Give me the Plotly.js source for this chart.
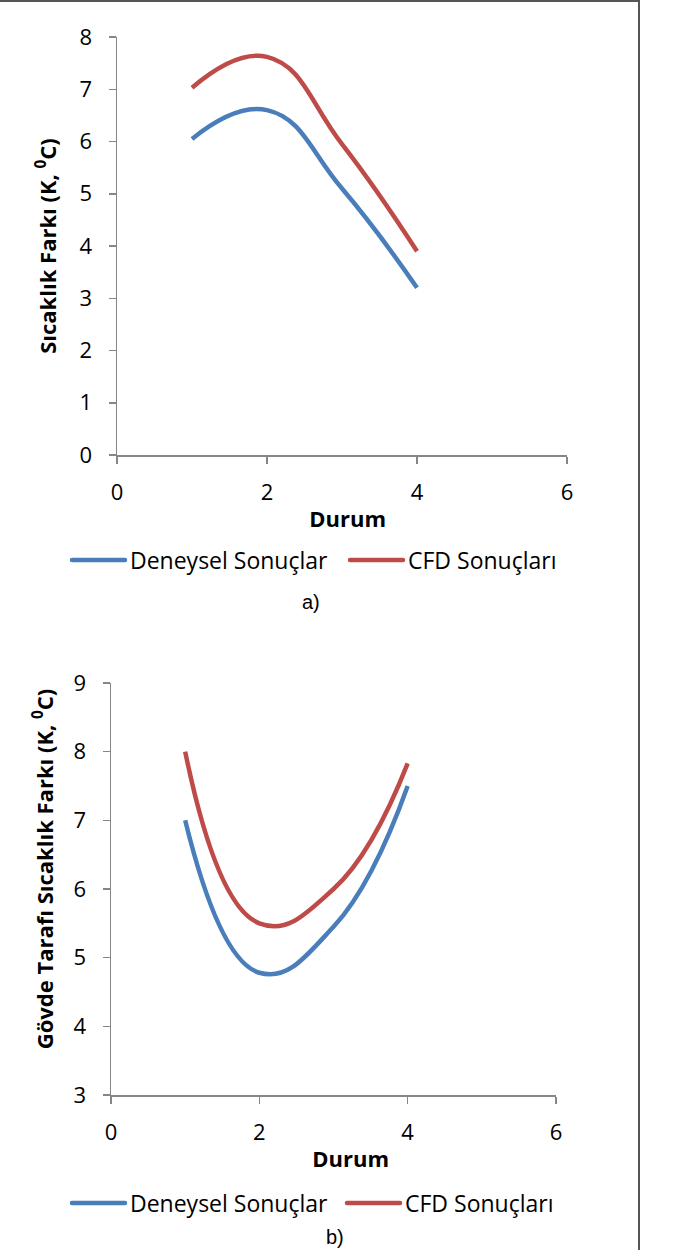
<!DOCTYPE html>
<html>
<head>
<meta charset="utf-8">
<script src="https://cdn.plot.ly/plotly-3.0.1.min.js"></script>
<style>
  html, body { margin: 0; padding: 0; background: #fff; width: 680px; height: 1250px; overflow: hidden; }
  #frame { position: absolute; left: -12px; top: 0px; width: 652px; height: 1300px; border: 2px solid #555; box-sizing: border-box; pointer-events: none; z-index: 5; }
  #chartA { position: absolute; left: 0; top: 0; width: 680px; height: 625px; }
  #chartB { position: absolute; left: 0; top: 625px; width: 680px; height: 625px; }
</style>
</head>
<body>
<div id="chartA"></div>
<div id="chartB"></div>
<div id="frame"></div>
<script>
// ---- data ----
const durum = [1, 2, 3, 4];
const seriesNames = ["Deneysel Sonuçlar", "CFD Sonuçları"];
const deneyselA = [6.05, 6.6, 5.1, 3.2];
const cfdA = [7.03, 7.62, 5.95, 3.9];
const deneyselB = [7.0, 4.78, 5.45, 7.5];
const cfdB = [8.0, 5.5, 6.0, 7.83];
const yTitleA = "Sıcaklık Farkı (K, <sup>0</sup>C)";
const yTitleB = "Gövde Tarafı Sıcaklık Farkı (K, <sup>0</sup>C)";
const xTitle = "Durum";
const captionA = "a)";
const captionB = "b)";

const BLUE = "#4A7EBB", RED = "#BE4B48", AXIS = "#868686";
const FONT = "Open Sans, sans-serif";
const SMOOTH = 1.3;

function traces(den, cfd) {
  return [
    { x: durum, y: den, name: seriesNames[0], type: "scatter", mode: "lines",
      line: { color: BLUE, width: 4.5, shape: "spline", smoothing: SMOOTH } },
    { x: durum, y: cfd, name: seriesNames[1], type: "scatter", mode: "lines",
      line: { color: RED, width: 4.5, shape: "spline", smoothing: SMOOTH } }
  ];
}

function axisCommon() {
  return {
    showline: true, linecolor: AXIS, linewidth: 1.5,
    ticks: "outside", tickcolor: AXIS, tickwidth: 1.5, ticklen: 7,
    showgrid: false, zeroline: false,
    tickfont: { family: FONT, size: 22, color: "#000" }
  };
}

function layout(cfg) {
  const xa = Object.assign(axisCommon(), {
    range: [0, 6], dtick: 2, tick0: 0, ticklabelstandoff: 10,
    title: { text: cfg.xpad + "<b>" + xTitle + "</b>", font: { family: FONT, size: 22, color: "#000" }, standoff: 6 }
  });
  const ya = Object.assign(axisCommon(), {
    range: cfg.yrange, dtick: 1, tick0: 0,
    ticklabelstandoff: 12,
    title: { text: cfg.ypad + "<b>" + cfg.ytitle + "</b>", font: { family: FONT, size: 22, color: "#000" }, standoff: cfg.ystand }
  });
  return {
    width: 680, height: 625,
    margin: cfg.margin,
    paper_bgcolor: "rgba(0,0,0,0)", plot_bgcolor: "rgba(0,0,0,0)",
    font: { family: FONT, color: "#000" },
    xaxis: xa, yaxis: ya,
    showlegend: true,
    legend: { orientation: "h", x: cfg.legx, xanchor: "left", y: cfg.legy, yanchor: "middle",
      font: { family: FONT, size: 23, color: "#000" }, itemwidth: 30,
      entrywidth: cfg.entry, entrywidthmode: "pixels", borderwidth: 0 },
    annotations: [{ xref: "paper", yref: "paper", x: cfg.capx, y: cfg.capy, xanchor: "center", yanchor: "middle",
      text: cfg.caption, showarrow: false,
      font: { family: "Liberation Sans Narrow, Arial Narrow, Liberation Sans, sans-serif", size: 20, color: "#000" } }]
  };
}

function longerLegendLines(id) {
  document.querySelectorAll("#" + id + " .legend [clip-path]").forEach(e => e.removeAttribute("clip-path"));
  document.querySelectorAll("#" + id + " .legendlines path").forEach(p => {
    p.setAttribute("d", "M-18,0h53");
    p.style.strokeLinecap = "round";
  });
}

// chart a: plot x 117..567, y 37..455 (div height 625)
Plotly.newPlot("chartA", traces(deneyselA, cfdA), layout({
  yrange: [0, 8], ytitle: yTitleA, ypad: "", xpad: "&nbsp;&nbsp;", ystand: 17,
  margin: { l: 117, r: 113, t: 37, b: 170, pad: 0 },
  entry: 233,
  legx: (90 - 117) / 450, legy: (455 - 560) / 418,
  capx: (311 - 117) / 450, capy: (455 - 602) / 418, caption: captionA
}), { staticPlot: true }).then(() => longerLegendLines("chartA"));

// chart b: plot x 111..556, y 58..470 (within its div)
Plotly.newPlot("chartB", traces(deneyselB, cfdB), layout({
  yrange: [3, 9], ytitle: yTitleB, ypad: "&nbsp;&nbsp;&nbsp;&nbsp;&nbsp;&nbsp;&nbsp;", xpad: "&nbsp;&nbsp;&nbsp;&nbsp;&nbsp;&nbsp;", ystand: 14,
  margin: { l: 111, r: 124, t: 58, b: 155, pad: 0 },
  entry: 230,
  legx: (90 - 111) / 445, legy: (470 - 578) / 412,
  capx: (335 - 111) / 445, capy: (470 - 612) / 412, caption: captionB
}), { staticPlot: true }).then(() => longerLegendLines("chartB"));
</script>
</body>
</html>
